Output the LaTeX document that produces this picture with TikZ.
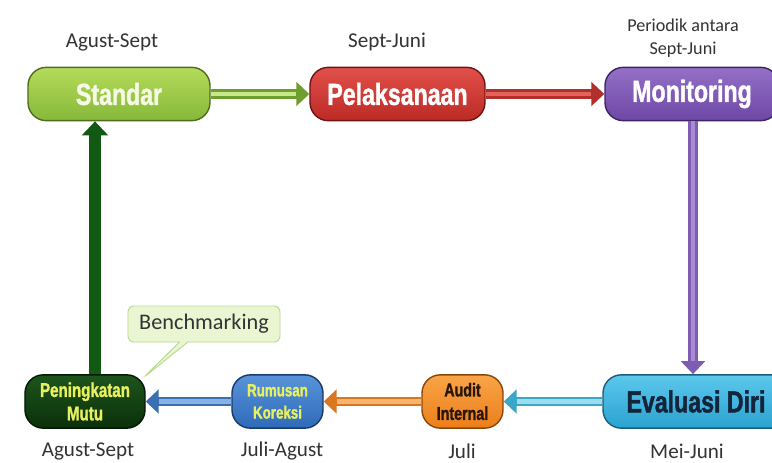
\documentclass[tikz,border=0pt]{standalone}
\usepackage{fontspec}
\setmainfont{Carlito}
\newfontfamily\boxfont[FakeStretch=0.76, BoldFeatures={FakeBold=1.3}]{Liberation Sans}
\usetikzlibrary{arrows.meta,shapes.callouts}
\definecolor{stdL}{HTML}{B5DB5A}\definecolor{stdD}{HTML}{86B83A}\definecolor{stdB}{HTML}{4E6E1E}
\definecolor{pelL}{HTML}{E2504A}\definecolor{pelD}{HTML}{BC2A26}\definecolor{pelB}{HTML}{6E1512}
\definecolor{monL}{HTML}{9470C6}\definecolor{monD}{HTML}{6E47A6}\definecolor{monB}{HTML}{3D2463}
\definecolor{evaL}{HTML}{5CC8EC}\definecolor{evaD}{HTML}{2AA2D0}\definecolor{evaB}{HTML}{1A5F7A}
\definecolor{audL}{HTML}{F9A548}\definecolor{audD}{HTML}{EC7E1A}\definecolor{audB}{HTML}{8A4608}
\definecolor{rumL}{HTML}{5994DA}\definecolor{rumD}{HTML}{2E6AB8}\definecolor{rumB}{HTML}{173A6A}
\definecolor{penL}{HTML}{1D551C}\definecolor{penD}{HTML}{0B300B}\definecolor{penB}{HTML}{051805}
\definecolor{ylw}{HTML}{E8F060}
\definecolor{stdT}{HTML}{F6F9E4}\definecolor{evaT}{HTML}{14243A}\definecolor{audT}{HTML}{2A1608}
\definecolor{bmF}{HTML}{EAF6D2}\definecolor{bmB}{HTML}{B9D98E}
\definecolor{a1}{HTML}{6E9E2E}\definecolor{a1l}{HTML}{C8E68A}
\definecolor{a2}{HTML}{B0302C}\definecolor{a2l}{HTML}{E2625C}
\definecolor{a3}{HTML}{7E5CB2}\definecolor{a3l}{HTML}{A98AD6}
\definecolor{a4}{HTML}{3AA6C8}\definecolor{a4l}{HTML}{9ADCF0}
\definecolor{a5}{HTML}{D9761E}\definecolor{a5l}{HTML}{F8B570}
\definecolor{a6}{HTML}{3A6FB4}\definecolor{a6l}{HTML}{86B2E6}
\definecolor{a7}{HTML}{125A14}
\tikzset{
  stage/.style={rounded corners=0.55cm, line width=1.2pt, align=center, inner sep=0pt,
    minimum height=1.6cm},
  bigtxt/.style={font=\boxfont\bfseries\fontsize{26}{28}\selectfont},
  smalltxt/.style={font=\boxfont\bfseries\fontsize{16}{20}\selectfont},
  period/.style={font=\fontsize{18}{21}\selectfont, text=black!80, inner sep=0pt},
  fatarrow/.style={line width=8.5pt, -{Triangle[length=11pt,width=20pt]}},
  shaftlight/.style={line width=3.5pt, shorten >=11pt},
}
\begin{document}
\begin{tikzpicture}[x=0.03cm,y=-0.03cm]
\useasboundingbox[fill=white] (0,0) rectangle (772,462);
\begin{scope}
\clip (0,0) rectangle (772,462);
% stage boxes
\node[stage, bigtxt, draw=stdB, top color=stdL, bottom color=stdD, minimum width=5.46cm,
  text=stdT] (std) at (119,94) {Standar};
\node[stage, bigtxt, draw=pelB, top color=pelL, bottom color=pelD, minimum width=5.25cm,
  text=white] (pel) at (397.5,94) {Pelaksanaan};
\node[stage, bigtxt, draw=monB, top color=monL, bottom color=monD, minimum width=5.22cm,
  text=white] (mon) at (692,94) {Monitoring};
\node[stage, bigtxt, draw=evaB, top color=evaL, bottom color=evaD, minimum width=5.58cm,
  text=evaT] (eva) at (696,401.5) {Evaluasi Diri};
\node[stage, smalltxt, draw=audB, top color=audL, bottom color=audD, minimum width=2.43cm,
  text=audT] (aud) at (462.5,401.5) {Audit\\Internal};
\node[stage, draw=rumB, top color=rumL, bottom color=rumD, minimum width=2.73cm,
  text=ylw, font=\boxfont\bfseries\fontsize{15}{19}\selectfont] (rum) at (277.5,401.5) {Rumusan\\Koreksi};
\node[stage, draw=penB, top color=penL, bottom color=penD, minimum width=3.6cm,
  text=ylw, font=\boxfont\bfseries\fontsize{17}{20}\selectfont] (pen) at (85,401.5) {Peningkatan\\Mutu};
\end{scope}
% period labels
\node[period] (l1) at (112,42) {Agust-Sept};
\node[period] (l2) at (387,42) {Sept-Juni};
\node[period, font=\fontsize{15.5}{19.6}\selectfont, align=center] (l3) at (683,38) {Periodik antara\\Sept-Juni};
\node[period] (l4) at (88,451) {Agust-Sept};
\node[period] (l5) at (282,451) {Juli-Agust};
\node[period] (l6) at (462,451) {Juli};
\node[period] (l7) at (687,451) {Mei-Juni};
% callout
\coordinate (tip) at (143,378);
\node[rectangle callout, callout absolute pointer={(tip)}, rounded corners=5pt,
  draw=bmB, fill=bmF, line width=0.8pt, minimum width=4.56cm, minimum height=1.08cm,
  font=\fontsize{19}{22}\selectfont, text=black!80] (bm) at (204,324) {Benchmarking};
% arrows
\coordinate (gx) at (95,0);
\coordinate (px) at (693,0);
\draw[fatarrow, color=a1] (std.east) -- (pel.west);
\draw[shaftlight, color=a1l] (std.east) -- (pel.west);
\draw[fatarrow, color=a2] (pel.east) -- (mon.west);
\draw[shaftlight, color=a2l] (pel.east) -- (mon.west);
\draw[fatarrow, color=a3] (mon.south -| px) -- (eva.north -| px);
\draw[shaftlight, color=a3l] (mon.south -| px) -- (eva.north -| px);
\draw[fatarrow, color=a4] (eva.west) -- (aud.east);
\draw[shaftlight, color=a4l] (eva.west) -- (aud.east);
\draw[fatarrow, color=a5] (aud.west) -- (rum.east);
\draw[shaftlight, color=a5l] (aud.west) -- (rum.east);
\draw[fatarrow, color=a6] (rum.west) -- (pen.east);
\draw[shaftlight, color=a6l] (rum.west) -- (pen.east);
\draw[line width=10pt, color=a7, -{Triangle[length=12pt,width=22pt]}] (pen.north -| gx) -- (std.south -| gx);
\end{tikzpicture}
\end{document}
